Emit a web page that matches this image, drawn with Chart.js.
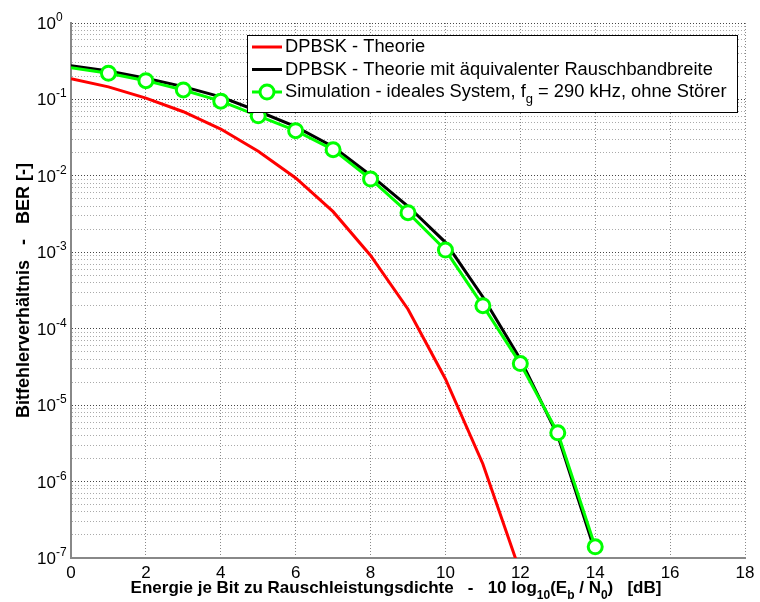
<!DOCTYPE html>
<html>
<head>
<meta charset="utf-8">
<title>Bitfehlerverhältnis DPBSK</title>
<script src="https://cdn.jsdelivr.net/npm/chart.js@4.4.1/dist/chart.umd.min.js"></script>
<style>
  html, body { margin: 0; padding: 0; background: #fff; }
  #wrap { width: 760px; height: 602px; }
</style>
</head>
<body>
<div id="wrap"><canvas id="ber" width="760" height="602"></canvas></div>
<script>
// Eb/N0 in dB
const ebN0Theory = [0, 1, 2, 3, 4, 5, 6, 7, 8, 9, 10, 11, 12];
const ebN0 = [0, 1, 2, 3, 4, 5, 6, 7, 8, 9, 10, 11, 12, 13, 14];

// bit error rates
const berTheory = [0.186, 0.146, 0.104, 0.069, 0.041, 0.021, 0.0094, 0.0034,
  9.1e-4, 1.8e-4, 2.2e-5, 1.7e-6, 6.5e-8];
const berTheoryBw = [0.276, 0.236, 0.189, 0.147, 0.108, 0.070, 0.044, 0.024,
  0.0102, 0.0040, 0.00135, 2.6e-4, 4.0e-5, 4.0e-6, 1.2e-7];
const berSim = [0.26, 0.22, 0.176, 0.133, 0.095, 0.061, 0.039, 0.022,
  0.0091, 0.0033, 0.00107, 2.0e-4, 3.5e-5, 4.35e-6, 1.4e-7];

// axis ticks
const xTicks = [0, 2, 4, 6, 8, 10, 12, 14, 16, 18];
const yExponents = [0, -1, -2, -3, -4, -5, -6, -7];
const yMinorSteps = [2, 3, 4, 5, 6, 7, 8, 9];

const legendItems = [
  { color: "#ff0000", marker: false, text: ["DPBSK - Theorie"] },
  { color: "#000000", marker: false, text: ["DPBSK - Theorie mit äquivalenter Rauschbandbreite"] },
  { color: "#00ff00", marker: true, text: ["Simulation - ideales System, f", "g", " = 290 kHz, ohne Störer"] },
];

const FONT = '"Liberation Sans", Arial, sans-serif';

function toPoints(xs, ys) {
  return xs.map((x, i) => ({ x, y: ys[i] }));
}

// decade + minor grid values for the log axis
function logGridTicks() {
  const ticks = [];
  for (const e of yExponents) {
    const base = Math.pow(10, e);
    ticks.push({ value: base, major: true });
    if (e < 0) {
      for (const m of yMinorSteps) ticks.push({ value: base * m, major: false });
    }
  }
  return ticks.sort((a, b) => a.value - b.value);
}

// text runs: even index = normal, odd index = subscript
function drawRuns(ctx, runs, x, y, size, weight) {
  let cx = x;
  runs.forEach((t, i) => {
    const sub = i % 2 === 1;
    ctx.font = `${weight} ${sub ? Math.round(size * 0.72) : size}px ${FONT}`;
    ctx.fillText(t, cx, sub ? y + size * 0.38 : y);
    cx += ctx.measureText(t).width;
  });
  return cx - x;
}

function runsWidth(ctx, runs, size, weight) {
  let w = 0;
  runs.forEach((t, i) => {
    const sub = i % 2 === 1;
    ctx.font = `${weight} ${sub ? Math.round(size * 0.72) : size}px ${FONT}`;
    w += ctx.measureText(t).width;
  });
  return w;
}

const berDecorations = {
  id: "berDecorations",
  afterDraw(chart) {
    const { ctx, chartArea, scales } = chart;
    const y = scales.y;
    ctx.save();
    ctx.fillStyle = "#000";

    // y tick labels 10^e
    ctx.textAlign = "left";
    ctx.textBaseline = "alphabetic";
    for (const e of yExponents) {
      const py = y.getPixelForValue(Math.pow(10, e));
      ctx.font = `17px ${FONT}`;
      ctx.fillText("10", 37, py + 6);
      const w = ctx.measureText("10").width;
      ctx.font = `12px ${FONT}`;
      ctx.fillText(String(e), 37 + w, py - 2);
    }

    // x axis title
    const xTitle = ["Energie je Bit zu Rauschleistungsdichte   -   10 log", "10", "(E", "b", " / N", "0", ")   [dB]"];
    ctx.textBaseline = "alphabetic";
    const xw = runsWidth(ctx, xTitle, 17, "bold");
    drawRuns(ctx, xTitle, 396 - xw / 2, 593, 17, "bold");

    // y axis title
    const yTitle = "Bitfehlerverhältnis   -   BER [-]";
    ctx.save();
    ctx.translate(29, (chartArea.top + chartArea.bottom) / 2);
    ctx.rotate(-Math.PI / 2);
    ctx.font = `bold 18px ${FONT}`;
    ctx.textAlign = "center";
    ctx.fillText(yTitle, 0, 0);
    ctx.restore();

    // legend box
    const box = { left: 247, top: 35, width: 490, height: 77 };
    ctx.fillStyle = "#fff";
    ctx.fillRect(box.left, box.top, box.width, box.height);
    ctx.strokeStyle = "#000";
    ctx.lineWidth = 1;
    ctx.strokeRect(box.left + 0.5, box.top + 0.5, box.width, box.height);

    const rows = [47, 69.5, 92];
    legendItems.forEach((item, i) => {
      const ry = rows[i];
      ctx.strokeStyle = item.color;
      ctx.lineWidth = 3;
      ctx.beginPath();
      ctx.moveTo(252, ry);
      ctx.lineTo(282, ry);
      ctx.stroke();
      if (item.marker) {
        ctx.beginPath();
        ctx.arc(267, ry, 7, 0, Math.PI * 2);
        ctx.fillStyle = "#fff";
        ctx.fill();
        ctx.stroke();
      }
      ctx.fillStyle = "#000";
      ctx.textAlign = "left";
      ctx.textBaseline = "middle";
      drawRuns(ctx, item.text, 285, ry, 18.3, "normal");
    });

    ctx.restore();
  },
};

const dottedGrid = [1, 2];

new Chart(document.getElementById("ber"), {
  type: "line",
  data: {
    datasets: [
      {
        label: legendItems[0].text.join(""),
        data: toPoints(ebN0Theory, berTheory),
        borderColor: "#ff0000",
        borderWidth: 3,
        pointRadius: 0,
        order: 3,
      },
      {
        label: legendItems[1].text.join(""),
        data: toPoints(ebN0, berTheoryBw),
        borderColor: "#000000",
        borderWidth: 3,
        pointRadius: 0,
        order: 2,
      },
      {
        label: legendItems[2].text.join(""),
        data: toPoints(ebN0, berSim),
        borderColor: "#00ff00",
        borderWidth: 3,
        pointRadius: ebN0.map((x) => (x === 0 ? 0 : 7)),
        pointBackgroundColor: "#ffffff",
        pointBorderColor: "#00ff00",
        pointBorderWidth: 3,
        order: 1,
      },
    ],
  },
  options: {
    responsive: false,
    animation: false,
    layout: { padding: { top: 23, right: 15, left: 0, bottom: 0 } },
    plugins: {
      legend: { display: false },
      tooltip: { enabled: false },
    },
    scales: {
      x: {
        type: "linear",
        min: 0,
        max: 18,
        afterBuildTicks: (scale) => {
          scale.ticks = xTicks.map((v) => ({ value: v }));
        },
        afterFit: (scale) => {
          scale.height = 44;
        },
        ticks: {
          color: "#000",
          font: { family: FONT, size: 17 },
          padding: 5,
          maxRotation: 0,
        },
        grid: { color: "#888", lineWidth: 1, drawTicks: false },
        border: { display: true, color: "#888", width: 2, dash: dottedGrid },
      },
      y: {
        type: "logarithmic",
        min: 1e-7,
        max: 1,
        afterBuildTicks: (scale) => {
          scale.ticks = logGridTicks();
        },
        afterFit: (scale) => {
          scale.width = 71;
        },
        ticks: { display: false },
        grid: {
          color: (c) => (c.tick && c.tick.major ? "#444" : "#aaa"),
          lineWidth: 1,
          drawTicks: false,
        },
        border: { display: true, color: "#888", width: 2, dash: dottedGrid },
      },
    },
  },
  plugins: [berDecorations],
});
</script>
</body>
</html>
